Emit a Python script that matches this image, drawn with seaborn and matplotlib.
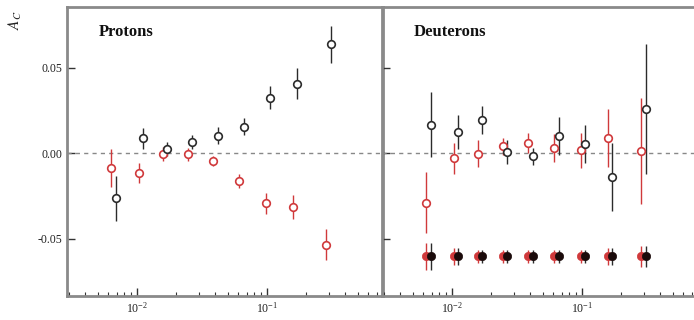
import numpy as np
import pandas as pd
import matplotlib
matplotlib.use("Agg")
import matplotlib.pyplot as plt
import seaborn as sns

# ---- data ----
x_black = [0.00689, 0.0111, 0.0170, 0.0265, 0.042, 0.0665, 0.105, 0.170, 0.310]
x_red = [0.0063, 0.01035, 0.0158, 0.0247, 0.0385, 0.061, 0.098, 0.158, 0.284]

p_black = [-0.0265, 0.0085, 0.0024, 0.0065, 0.0100, 0.0153, 0.0324, 0.0406, 0.0635]
p_black_err = [0.013, 0.006, 0.004, 0.004, 0.005, 0.005, 0.0065, 0.009, 0.011]
p_red = [-0.0088, -0.0118, -0.0005, -0.0008, -0.0047, -0.0165, -0.0295, -0.0318, -0.0535]
p_red_err = [0.011, 0.006, 0.004, 0.004, 0.003, 0.004, 0.006, 0.007, 0.009]

d_black = [0.0165, 0.0124, 0.0194, 0.0006, -0.0018, 0.0100, 0.0053, -0.0140, 0.0260]
d_black_err = [0.019, 0.010, 0.008, 0.007, 0.005, 0.011, 0.011, 0.020, 0.038]
d_red = [-0.0290, -0.0030, -0.0003, 0.0040, 0.0060, 0.0030, 0.0015, 0.0090, 0.0010]
d_red_err = [0.018, 0.009, 0.008, 0.005, 0.006, 0.008, 0.010, 0.017, 0.031]

d_ref = [-0.0605] * 9
d_ref_err = [0.008, 0.005, 0.004, 0.004, 0.004, 0.004, 0.004, 0.005, 0.006]

panel_titles = ["Protons", "Deuterons"]
y_ticks = [-0.05, 0.0, 0.05]
y_tick_labels = ["-0.05", "0.00", "0.05"]

BLACK = "#2b2b2b"
RED = "#d0393b"
SPINE = "#8a8a8a"

sns.set_theme(style="white")
plt.rcParams["font.family"] = ["Liberation Serif", "DejaVu Serif"]
plt.rcParams["mathtext.fontset"] = "stix"

fig = plt.figure(figsize=(6.94, 3.2), dpi=100)
w = 316 / 694
axL = fig.add_axes([67 / 694, 0.075, w, 0.9016])
axR = fig.add_axes([382 / 694, 0.075, w, 0.9016])


def draw(ax, xb, yb, eb, xr, yr, er):
    ax.errorbar(xr, yr, yerr=er, fmt="none", ecolor=RED, elinewidth=1.0, capsize=0, zorder=2)
    ax.errorbar(xb, yb, yerr=eb, fmt="none", ecolor=BLACK, elinewidth=1.0, capsize=0, zorder=2)
    df_r = pd.DataFrame({"x": xr, "y": yr})
    df_b = pd.DataFrame({"x": xb, "y": yb})
    sns.scatterplot(data=df_r, x="x", y="y", ax=ax, marker="o", s=30,
                    facecolor="white", edgecolor=RED, linewidth=1.2, zorder=3)
    sns.scatterplot(data=df_b, x="x", y="y", ax=ax, marker="o", s=30,
                    facecolor="white", edgecolor=BLACK, linewidth=1.2, zorder=4)


draw(axL, x_black, p_black, p_black_err, x_red, p_red, p_red_err)
draw(axR, x_black, d_black, d_black_err, x_red, d_red, d_red_err)

# reference filled points (deuterons)
axR.errorbar(x_red, d_ref, yerr=d_ref_err, fmt="none", ecolor=RED, elinewidth=1.0, zorder=2)
axR.errorbar(x_black, d_ref, yerr=d_ref_err, fmt="none", ecolor=BLACK, elinewidth=1.0, zorder=2)
sns.scatterplot(x=x_red, y=d_ref, ax=axR, marker="o", s=36, color=RED, edgecolor=RED, zorder=3)
sns.scatterplot(x=x_black, y=d_ref, ax=axR, marker="o", s=36, color="#1a0a0a", edgecolor="#1a0a0a", zorder=4)

for i, ax in enumerate([axL, axR]):
    ax.set_xscale("log")
    ax.set_xlim(0.0029, 0.78)
    ax.set_ylim(-0.0836, 0.0851)
    ax.axhline(0, color="#888888", ls=(0, (3, 3)), lw=1.0, zorder=1)
    ax.set_xlabel("")
    ax.set_ylabel("")
    ax.set_yticks(y_ticks)
    ax.tick_params(axis="both", which="major", direction="in", length=6, width=1.0,
                   color="#333333", labelsize=8.5, labelcolor="#222222")
    ax.tick_params(axis="x", which="minor", direction="in", length=3, width=0.8, color="#333333")
    ax.tick_params(axis="x", which="both", bottom=True, top=False)
    ax.tick_params(axis="y", which="both", left=True, right=False)
    for s in ax.spines.values():
        s.set_color(SPINE)
        s.set_linewidth(2.0)
    ax.text(0.1, 0.915, panel_titles[i], transform=ax.transAxes,
            fontsize=12, fontweight="bold", color="#111111", ha="left", va="center")
    if i == 0:
        ax.set_yticklabels(y_tick_labels)
    else:
        ax.set_yticklabels([])
    ax.patch.set_alpha(0)

axR.spines["right"].set_visible(False)

fig.text(15 / 694, 1 - 20 / 320, r"$A_C$", rotation=90, fontsize=11, ha="center", va="center", color="#222222")

fig.savefig("out.png", dpi=100, facecolor="white")
